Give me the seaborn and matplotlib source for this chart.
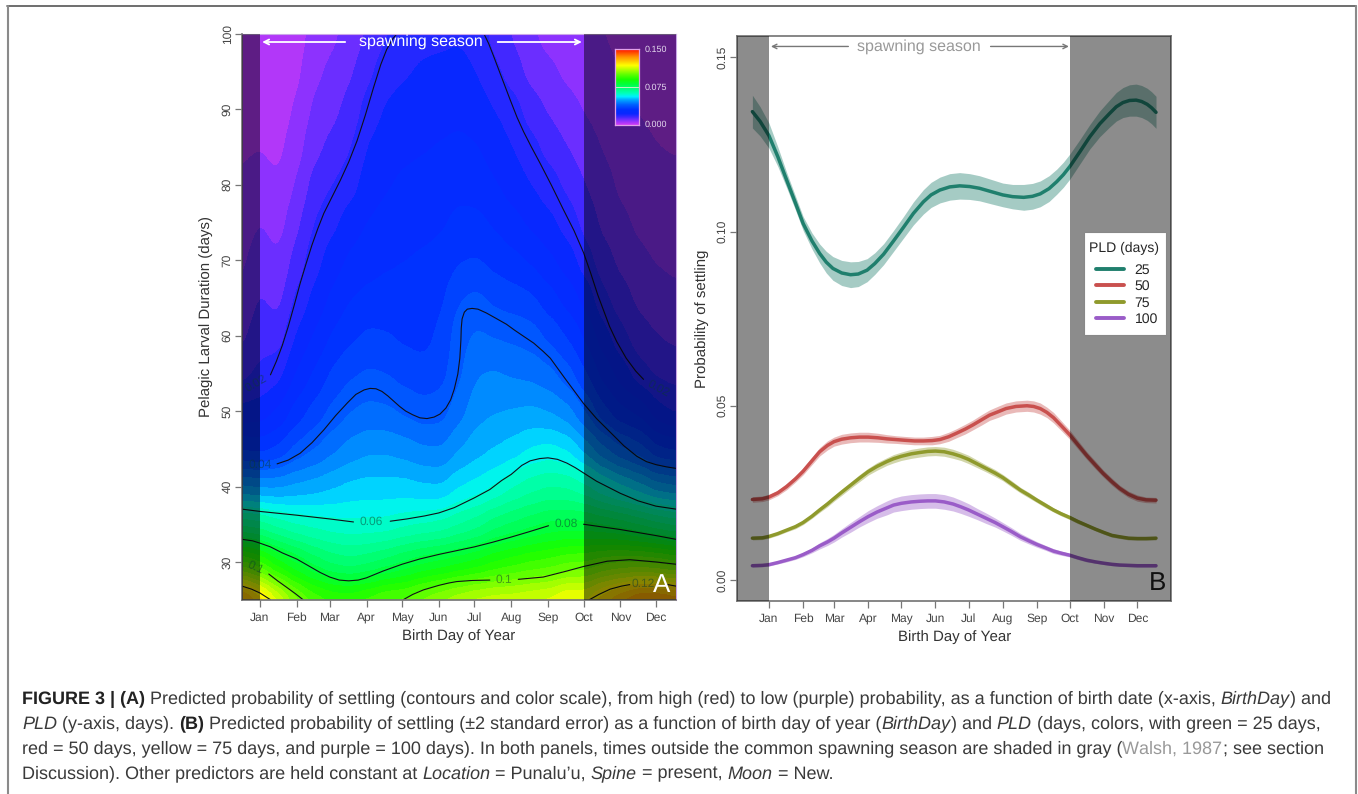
import numpy as np
import pandas as pd
import matplotlib
matplotlib.use('Agg')
import matplotlib.pyplot as plt
from matplotlib.colors import LinearSegmentedColormap, BoundaryNorm
from matplotlib.legend_handler import HandlerLine2D
from matplotlib.lines import Line2D
from matplotlib.patches import Rectangle
import seaborn as sns

W, H = 1358, 794

month_labels = ['Jan', 'Feb', 'Mar', 'Apr', 'May', 'Jun', 'Jul', 'Aug', 'Sep', 'Oct', 'Nov', 'Dec']
month_days = [1, 32, 60, 91, 121, 152, 182, 213, 244, 274, 305, 335]

# panel A: settling probability
grid_days = [-14, 1.25, 16.5, 31.75, 47, 62.25, 77.5, 92.75, 108, 123.25, 138.5, 153.75, 169,
             184.25, 199.5, 214.75, 230, 245.25, 260.5, 275.75, 291, 306.25, 321.5, 336.75, 352]
grid_pld = [25, 30, 35, 40, 45, 50, 55, 60, 65, 70, 75, 80, 85, 90, 95, 100]
# one row per entry of grid_days, PLD going up
grid_prob = [
    [.133, .098, .070, .049, .033, .0235, .0175, .014, .012, .0105, .009, .008, .007, .006, .0055, .005],
    [.125, .094, .069, .048, .032, .024, .0195, .0175, .0155, .0135, .0115, .009, .0075, .006, .005, .004],
    [.115, .087, .066, .048, .034, .0265, .021, .0165, .0135, .0115, .0095, .0078, .0065, .0055, .0045, .004],
    [.104, .082, .0635, .0495, .0385, .0315, .0265, .023, .0195, .0165, .014, .0115, .0095, .008, .0065, .0055],
    [.098, .077, .0625, .0505, .041, .035, .0305, .0265, .0235, .021, .019, .0165, .014, .012, .0105, .009],
    [.095, .0735, .0615, .052, .044, .0385, .0345, .0305, .027, .0245, .0215, .0188, .016, .014, .012, .0105],
    [.0945, .072, .061, .0535, .0465, .0412, .037, .033, .030, .027, .0245, .021, .0185, .0165, .0145, .0125],
    [.097, .0735, .061, .054, .048, .0425, .038, .0345, .031, .0285, .0265, .0245, .023, .0205, .018, .0155],
    [.100, .076, .061, .054, .048, .042, .0375, .034, .0315, .0295, .0275, .026, .0245, .023, .0212, .0185],
    [.100, .079, .0625, .054, .047, .0405, .036, .033, .0315, .030, .0285, .027, .0255, .0238, .0222, .0205],
    [.104, .0815, .0635, .053, .0455, .039, .035, .0325, .0315, .0305, .029, .0275, .026, .0245, .023, .0215],
    [.107, .083, .0645, .0525, .045, .0395, .036, .0345, .033, .0312, .0295, .028, .0265, .025, .0235, .0215],
    [.110, .085, .067, .056, .0485, .0435, .0405, .040, .0375, .0335, .031, .029, .027, .0255, .024, .022],
    [.112, .087, .0695, .0575, .051, .0475, .045, .042, .0385, .034, .031, .0285, .0265, .0245, .0225, .0205],
    [.113, .090, .0735, .060, .0525, .0485, .0455, .041, .0365, .0325, .0295, .0265, .0245, .0225, .0195, .0175],
    [.113, .092, .0755, .0635, .054, .049, .0445, .0405, .0355, .031, .0275, .0245, .0225, .0205, .017, .0145],
    [.114, .094, .0775, .066, .0565, .0495, .044, .0395, .0345, .0295, .0255, .0225, .020, .017, .0135, .0115],
    [.115, .095, .0795, .0675, .0575, .0485, .0425, .0365, .0315, .027, .0235, .0205, .0175, .0145, .012, .010],
    [.119, .097, .080, .067, .056, .0465, .039, .0335, .0285, .0245, .021, .018, .015, .0125, .0105, .009],
    [.118, .0975, .080, .0645, .051, .041, .034, .0295, .025, .0205, .0175, .015, .013, .011, .0095, .0085],
    [.125, .100, .0785, .060, .0455, .0345, .0285, .024, .0195, .0165, .014, .0125, .011, .0095, .0085, .0075],
    [.130, .101, .077, .0565, .0415, .0305, .0245, .0197, .0165, .014, .012, .0105, .0095, .0085, .0075, .0065],
    [.135, .101, .0745, .0535, .039, .029, .020, .0165, .014, .012, .0105, .0093, .0083, .0073, .0065, .0058],
    [.135, .100, .072, .050, .034, .0235, .018, .015, .0127, .011, .0095, .0085, .0075, .0068, .006, .0055],
    [.133, .098, .070, .049, .033, .0215, .0175, .014, .012, .0105, .0092, .0082, .0073, .0065, .006, .0055],
]

# contour lines of panel A, as (day, PLD)
c02_left = [(10, 54.8), (15, 56.6), (20, 58.7), (25, 61.2), (30, 64), (35, 66.9), (40, 69.5), (45, 72), (50, 74.2),
            (55, 76.2), (62, 78.4), (69, 80.6), (76, 83), (83, 85.8), (90, 89.2), (97, 92.9), (103, 95.9),
            (108, 97.9), (113, 99.3), (116.7, 100)]
c02_right = [(190, 100), (194, 98.7), (198, 97.1), (205, 94.2), (212, 91.3), (218, 88.9), (223.5, 87), (230, 85),
             (237.5, 82.8), (247, 79.9), (257, 76.7), (266, 73.9), (274, 71), (280, 68.3), (286, 65.4), (291, 63.3),
             (296, 61.2), (302, 59.2), (310, 57), (318, 55.3), (324.6, 54.2)]
c04_line = [(15.6, 43), (25, 43.5), (35, 44.4), (45, 45.8), (55, 47.5), (65, 49.4), (75, 51.1), (82, 52.2), (89, 52.8),
            (94, 53), (99, 52.95), (104, 52.6), (109, 52), (114, 51.3), (119, 50.6), (124, 50), (130, 49.5),
            (136, 49.1), (142, 49), (148, 49.2), (153, 49.6), (158, 50.4), (162, 51.5), (165, 52.9), (168, 54.9),
            (169.7, 57), (170.6, 59.4), (170.9, 61), (171.6, 62.2), (173.5, 63.1), (176, 63.5), (180, 63.6),
            (185, 63.5), (192, 63), (200, 62.3), (209, 61.5), (216, 60.7), (223.5, 59.9), (232, 59), (240, 57.9),
            (246, 57), (252, 55.7), (258, 54.4), (266, 52.7), (274, 51), (285, 49), (296.5, 47.2), (308, 45.4),
            (319, 44), (327, 43.3), (335, 42.9), (344, 42.6), (352, 42.4)]
c06_left = [(-14, 37), (1, 36.7), (32, 36.2), (60, 35.7), (80, 35.3)]
c06_right = [(111, 35.4), (125, 35.7), (140, 36.1), (152, 36.5), (165, 37.2), (182, 38.5), (195, 39.6), (205, 40.8),
             (213, 41.6), (222, 42.8), (229, 43.4), (237, 43.7), (244, 43.8), (252, 43.6), (260, 43.1), (267, 42.5),
             (274, 41.8), (285, 40.7), (295, 39.9), (305, 39.1), (320, 38.1), (335, 37.4), (352, 37)]
c08_left = [(-14, 33), (-5, 32.8), (1, 32.5), (10, 32), (20, 31.2), (32, 30.4), (42, 29.5), (52, 28.6), (60, 28),
            (68, 27.6), (76, 27.5), (84, 27.6), (91, 27.9), (105, 28.8), (121, 29.7), (136, 30.4), (152, 31),
            (167, 31.5), (182, 32), (197, 32.6), (213, 33.3), (228, 34), (244.5, 34.8)]
c08_right = [(274, 35), (305, 34.3), (335, 33.5), (352, 33)]
c10_left = [(8.6, 28.4), (16, 27.5), (24, 26.6), (31, 25.8), (37.5, 25)]
c10_mid = [(122, 25), (130, 25.7), (139, 26.3), (152, 26.9), (160, 27.2), (167, 27.4), (180, 27.55), (195, 27.6)]
c10_right = [(219, 27.7), (240, 28), (260, 28.8), (274, 29.4), (294, 30.1), (313, 30.3), (335, 30), (352, 29.7)]
c12_left = [(-14, 26.8), (-6, 26.4), (1, 25.9), (10, 25)]
c12_mid = [(279, 25), (287, 25.7), (296.5, 26.4), (306, 26.8), (313, 27)]
c12_right = [(345, 27), (352, 26.8)]
contour_parts = [c02_left, c02_right, c04_line, c06_left, c06_right, c08_left, c08_right,
                 c10_left, c10_mid, c10_right, c12_left, c12_mid, c12_right]

# panel B: (day, probability, two standard errors)
curve25 = [(-14, .1344, .0047), (-7, .1316, .0042), (1, .1275, .0036), (9, .1215, .0028), (17, .1148, .0022),
           (25, .1082, .002), (32, .1023, .002), (40, .0973, .0023), (47, .0937, .0027), (53, .0912, .0031),
           (59, .0894, .0034), (67, .0881, .0036), (75, .0876, .0037), (82, .0878, .0036), (90, .0889, .0033),
           (97, .0908, .0031), (105, .0935, .003), (114, .0973, .003), (123, .1012, .0031), (132, .1052, .0033),
           (141, .1085, .0035), (148, .1105, .0036), (156, .1119, .0037), (165, .1128, .0038), (174, .1131, .0038),
           (183, .1129, .0037), (192, .1124, .0036), (203, .1114, .0035), (213, .1105, .0034), (222, .1100, .0035),
           (232, .1098, .0037), (240, .1101, .0037), (247, .1108, .0037), (255, .1123, .0037), (262, .1143, .0036),
           (268, .1163, .0036), (274, .1187, .0036), (283, .1229, .0035), (292, .1272, .0035), (301, .1309, .0037),
           (310, .1339, .0039), (316, .1358, .0041), (322, .1370, .0043), (328, .1376, .0045), (334, .1377, .0046),
           (339, .1373, .0046), (344, .1365, .0046), (348, .1355, .0046), (352, .1342, .0046)]
curve50 = [(-14, .0231, .0008), (-5, .0233, .0008), (1, .0238, .0008), (9, .0250, .0008), (17, .0268, .0009),
           (25, .0290, .0009), (32, .0312, .001), (40, .0342, .0011), (47, .0368, .0012), (54, .0386, .0013),
           (60, .0397, .0013), (67, .0404, .0014), (75, .0408, .0014), (83, .0410, .0014), (91, .0410, .0014),
           (100, .0408, .0013), (108, .0405, .0012), (116, .0403, .0011), (124, .0401, .0011), (133, .0399, .0011),
           (141, .0399, .0011), (149, .0400, .0012), (156, .0403, .0012), (164, .0411, .0013), (171, .0421, .0013),
           (179, .0433, .0014), (186, .0445, .0014), (194, .0460, .0015), (201, .0473, .0015), (209, .0483, .0016),
           (216, .0492, .0016), (225, .0498, .0016), (235, .0500, .0016), (241, .0498, .0016), (247, .0492, .0016),
           (253, .0481, .0015), (259, .0466, .0015), (266, .0443, .0014), (274, .0416, .0013), (282, .0385, .0012),
           (289, .0358, .0011), (297, .0330, .0011), (304, .0306, .001), (312, .0282, .001), (319, .0263, .0009),
           (327, .0246, .0009), (335, .0235, .0009), (343, .0230, .0008), (352, .0229, .0008)]
curve75 = [(-14, .0120, .0005), (-5, .0121, .0005), (1, .0125, .0005), (9, .0133, .0005), (17, .0143, .0005),
           (25, .0153, .0006), (32, .0165, .0006), (40, .0183, .0006), (47, .0201, .0007), (54, .0218, .0008),
           (60, .0234, .0008), (67, .0252, .0009), (75, .0272, .0009), (83, .0292, .001), (91, .0311, .001),
           (99, .0326, .0011), (108, .0340, .0011), (114, .0348, .0012), (121, .0355, .0012), (130, .0362, .0013),
           (138, .0366, .0013), (145, .0369, .0013), (152, .0370, .0013), (160, .0368, .0013), (168, .0362, .0013),
           (175, .0355, .0012), (182, .0346, .0012), (190, .0333, .0011), (198, .0320, .001), (206, .0307, .001),
           (213, .0294, .0009), (221, .0276, .0009), (229, .0258, .0008), (237, .0243, .0008), (244, .0229, .0007),
           (252, .0214, .0007), (259, .0201, .0006), (266, .0190, .0006), (274, .0179, .0006), (281, .0168, .0006),
           (289, .0157, .0005), (297, .0146, .0005), (305, .0136, .0005), (312, .0128, .0005), (319, .0124, .0005),
           (327, .0120, .0005), (335, .0119, .0005), (343, .0119, .0005), (352, .0120, .0005)]
curve100 = [(-14, .0041, .0004), (-5, .0042, .0004), (1, .0044, .0004), (9, .0050, .0004), (17, .0057, .0005),
            (25, .0064, .0005), (32, .0073, .0006), (40, .0085, .0007), (47, .0098, .0009), (54, .0109, .001),
            (60, .0120, .0011), (67, .0135, .0012), (75, .0151, .0014), (83, .0167, .0015), (91, .0182, .0017),
            (99, .0195, .0018), (108, .0207, .002), (114, .0215, .002), (121, .0220, .0021), (130, .0224, .0021),
            (138, .0226, .0021), (145, .0227, .0021), (152, .0227, .0021), (160, .0224, .0021), (168, .0218, .002),
            (175, .0210, .0019), (182, .0201, .0018), (190, .0189, .0016), (198, .0177, .0015), (206, .0165, .0013),
            (213, .0153, .0012), (221, .0139, .0011), (229, .0124, .001), (237, .0112, .0009), (244, .0102, .0008),
            (252, .0092, .0007), (259, .0083, .0007), (266, .0077, .0006), (274, .0071, .0005), (281, .0064, .0005),
            (289, .0057, .0005), (297, .0052, .0004), (305, .0048, .0004), (312, .0045, .0004), (319, .0043, .0004),
            (327, .0042, .0004), (335, .0041, .0004), (343, .0041, .0004), (352, .0041, .0004)]

pld_curves = [('25', curve25, '#1f7f6d'), ('50', curve50, '#c9504e'),
              ('75', curve75, '#8f9a2c'), ('100', curve100, '#9a5cc8')]

sns.set_theme(style='ticks')
plt.rcParams['font.family'] = ['Liberation Sans', 'DejaVu Sans']
plt.rcParams['text.hinting'] = 'no_hinting'
plt.rcParams['text.hinting_factor'] = 1
plt.rcParams['axes.edgecolor'] = '#777777'
plt.rcParams['xtick.color'] = '#777777'
plt.rcParams['ytick.color'] = '#777777'
plt.rcParams['axes.labelcolor'] = '#333333'

fig = plt.figure(figsize=(W / 100, H / 100), dpi=100, facecolor='white')


def px_axes(left, right, top, bottom):
    return fig.add_axes([left / W, 1 - bottom / H, (right - left) / W, (bottom - top) / H])


def style_axis(ax, ylab, ticks, ticklabels, pad):
    ax.set_xticks(month_days)
    ax.set_xticklabels(month_labels)
    ax.set_yticks(ticks)
    ax.set_yticklabels(ticklabels, rotation=90, va='center')
    ax.tick_params(axis='both', length=5, width=0.9, labelsize=8.8, labelcolor='#444444')
    ax.tick_params(axis='x', pad=4)
    ax.tick_params(axis='y', pad=1.5)
    ax.set_xlabel('Birth Day of Year', fontsize=10.6, labelpad=4)
    ax.set_ylabel(ylab, fontsize=10.6, labelpad=pad)


# rainbow scale
stops = [(0.0, '#d23cf5'), (0.008, '#8a32ff'), (0.016, '#3c28ff'), (0.022, '#0a28ff'), (0.03, '#0030ff'),
         (0.04, '#0060ff'), (0.05, '#00aaff'), (0.056, '#00f0ff'), (0.062, '#00ffc0'), (0.08, '#00ff40'),
         (0.09, '#18ff00'), (0.10, '#60ff00'), (0.118, '#ffff00'), (0.135, '#ff9000'), (0.15, '#ff1000')]
rainbow = LinearSegmentedColormap.from_list('settle', [(v / 0.15, c) for v, c in stops], N=256)
levels = np.arange(0, 0.1501, 0.00375)
band_norm = BoundaryNorm(levels, rainbow.N, clip=True)

# ---- panel A
ax_a = px_axes(242, 676, 33.7, 599.7)
field = np.array(grid_prob).T
dx = (grid_days[-1] - grid_days[0]) / (len(grid_days) - 1) / 2
dy = (grid_pld[-1] - grid_pld[0]) / (len(grid_pld) - 1) / 2
ax_a.imshow(field, origin='lower', aspect='auto', cmap=rainbow, norm=band_norm,
            extent=[grid_days[0] - dx, grid_days[-1] + dx, grid_pld[0] - dy, grid_pld[-1] + dy],
            interpolation='gaussian', interpolation_stage='data', zorder=1)
for part in contour_parts:
    xs, ys = zip(*part)
    sns.lineplot(x=list(xs), y=list(ys), sort=False, estimator=None, color='#101018', linewidth=0.8, ax=ax_a, zorder=2)
ax_a.axvspan(-14, 1, color='black', alpha=0.47, lw=0, zorder=3)
ax_a.axvspan(274, 352, color='black', alpha=0.47, lw=0, zorder=3)
ax_a.set_xlim(-14, 352)
ax_a.set_ylim(25, 100)
style_axis(ax_a, 'Pelagic Larval Duration (days)', [30, 40, 50, 60, 70, 80, 90, 100],
           ['30', '40', '50', '60', '70', '80', '90', '100'], 6.5)
for side in ['top', 'right']:
    ax_a.spines[side].set_color('#c9a6e8')
    ax_a.spines[side].set_linewidth(0.8)

contour_labels = [('0.06', 95, 35.3, 0), ('0.08', 259, 35, 0), ('0.1', 207, 27.7, 0), ('0.12', 324.5, 27.1, 0),
                  ('0.1', -2.6, 29.2, -25), ('0.04', 1, 42.9, 0), ('0.02', -2, 53.7, 30), ('0.02', 337, 53, -28)]
for lab, lx, ly, rot in contour_labels:
    ax_a.text(lx, ly, lab, color='#0a3a30', alpha=0.5, fontsize=8.6, rotation=rot, ha='center', va='center', zorder=4)

ax_a.text(137, 98.9, 'spawning season', color='white', fontsize=11.6, ha='center', va='center', zorder=5)
for x0, x1 in [(73, 3), (201.6, 272.6)]:
    ax_a.annotate('', xy=(x1, 98.9), xytext=(x0, 98.9), zorder=5,
                  arrowprops=dict(arrowstyle='->', color='white', lw=1.3, shrinkA=0, shrinkB=0, mutation_scale=9))
ax_a.text(0.968, 0.026, 'A', transform=ax_a.transAxes, color='white', fontsize=18.5, ha='center', va='center', zorder=5)

# colour key
ax_key = px_axes(615.3, 639.3, 49.3, 125)
ax_key.imshow(np.linspace(0, 0.15, 256).reshape(-1, 1), origin='lower', aspect='auto', cmap=rainbow,
              vmin=0, vmax=0.15, extent=[0, 1, 0, 0.15])
ax_key.axhline(0.075, color='#c8f0c0', lw=0.7)
ax_key.set_xticks([])
ax_key.set_yticks([])
for sp in ax_key.spines.values():
    sp.set_color('#e0a0e8')
    sp.set_linewidth(0.9)
for lab, py in [('0.150', 49.3), ('0.075', 87.3), ('0.000', 124.8)]:
    fig.text(644.5 / W, 1 - py / H, lab, color='#e4d8ee', fontsize=6.2, ha='left', va='center')

# ---- panel B
ax_b = px_axes(737.3, 1171, 36, 600.7)
handles = []
for name, curve, col in pld_curves:
    df = pd.DataFrame(curve, columns=['day', 'prob', 'se'])
    ax_b.fill_between(df['day'], df['prob'] - df['se'], df['prob'] + df['se'], color=col, alpha=0.4, lw=0, zorder=2)
    sns.lineplot(data=df, x='day', y='prob', color=col, linewidth=2.5, errorbar=None, ax=ax_b, zorder=2.5)
    handles.append(Line2D([0], [0], color=col, lw=2.8, solid_capstyle='round', label=name))
ax_b.axvspan(-30, 1, color='black', alpha=0.45, lw=0, zorder=3)
ax_b.axvspan(274, 370, color='black', alpha=0.45, lw=0, zorder=3)
ax_b.set_xlim(-27.7, 365.6)
ax_b.set_ylim(-0.00594, 0.1561)
style_axis(ax_b, 'Probability of settling', [0, 0.05, 0.10, 0.15], ['0.00', '0.05', '0.10', '0.15'], 5.7)
ax_b.text(137, 0.1531, 'spawning season', color='#999999', fontsize=11.6, ha='center', va='center', zorder=5)
for x0, x1 in [(73, 2.8), (202, 273)]:
    ax_b.annotate('', xy=(x1, 0.1531), xytext=(x0, 0.1531), zorder=5,
                  arrowprops=dict(arrowstyle='->', color='#777777', lw=1.0, shrinkA=0, shrinkB=0, mutation_scale=8))
ax_b.text(0.968, 0.03, 'B', transform=ax_b.transAxes, color='#111111', fontsize=18.5, ha='center', va='center', zorder=5)
# legend box drawn by hand, its padding is uneven in the original
ax_b.add_patch(Rectangle((1084 / W, 1 - 335 / H), 81.7 / W, 103.3 / H, transform=fig.transFigure, clip_on=False,
                         facecolor='white', edgecolor='#888888', lw=0.8, zorder=5.5))
leg = ax_b.legend(handles=handles, title='PLD (days)', loc='lower left',
                  bbox_to_anchor=((1084 - 737.3) / 433.7, (600.7 - 331) / 564.7), borderaxespad=0,
                  frameon=False, fontsize=10, title_fontsize=10.4, alignment='left', handlelength=2.55,
                  labelspacing=0.25, handletextpad=0.75, borderpad=0.35,
                  handler_map={Line2D: HandlerLine2D(xpad=0.5)})
leg._legend_box.sep = 6.5
leg.set_zorder(6)

# ---- page frame
fig.add_artist(Line2D([7 / W, 1356 / W], [1 - 6 / H, 1 - 6 / H], color='#555555', lw=1.2))
fig.add_artist(Line2D([7.5 / W, 7.5 / W], [0, 1 - 6 / H], color='#8a8a8a', lw=1.5))
fig.add_artist(Line2D([1355.5 / W, 1355.5 / W], [0, 1 - 6 / H], color='#8a8a8a', lw=1.5))

# ---- caption, piece by piece because of the mixed styles
BK = '#3a3a3a'
caption = [
    (697, 12.9, [('FIGURE 3 | (A)', 'normal', 'bold', '#222222'),
           (' Predicted probability of settling (contours and color scale), from high (red) to low (purple) probability, as a function of birth date (x-axis, ', 'normal', 'normal', BK),
           ('BirthDay', 'italic', 'normal', BK), (') and', 'normal', 'normal', BK)]),
    (722, 12.9, [('PLD', 'italic', 'normal', BK), (' (y-axis, days). ', 'normal', 'normal', BK), ('(B)', 'normal', 'bold', '#222222'),
           (' Predicted probability of settling (\u00b12 standard error) as a function of birth day of year (', 'normal', 'normal', BK),
           ('BirthDay', 'italic', 'normal', BK), (') and ', 'normal', 'normal', BK), ('PLD', 'italic', 'normal', BK),
           (' (days, colors, with green = 25 days,', 'normal', 'normal', BK)]),
    (747, 13.1, [('red = 50 days, yellow = 75 days, and purple = 100 days). In both panels, times outside the common spawning season are shaded in gray (', 'normal', 'normal', BK),
           ('Walsh, 1987', 'normal', 'normal', '#999999'), ('; see section', 'normal', 'normal', BK)]),
    (772, 13.1, [('Discussion). Other predictors are held constant at ', 'normal', 'normal', BK), ('Location', 'italic', 'normal', BK),
           (' = Punalu\u2019u, ', 'normal', 'normal', BK), ('Spine', 'italic', 'normal', BK), (' = present, ', 'normal', 'normal', BK),
           ('Moon', 'italic', 'normal', BK), (' = New.', 'normal', 'normal', BK)]),
]
renderer = fig.canvas.get_renderer()
for py, size, runs in caption:
    cur = 22
    for txt, fstyle, fweight, col in runs:
        t = fig.text(cur / W, 1 - py / H, txt, fontsize=size, style=fstyle, weight=fweight, color=col,
                     ha='left', va='center_baseline')
        cur += t.get_window_extent(renderer).width

fig.savefig('out.png', dpi=100, facecolor='white')
